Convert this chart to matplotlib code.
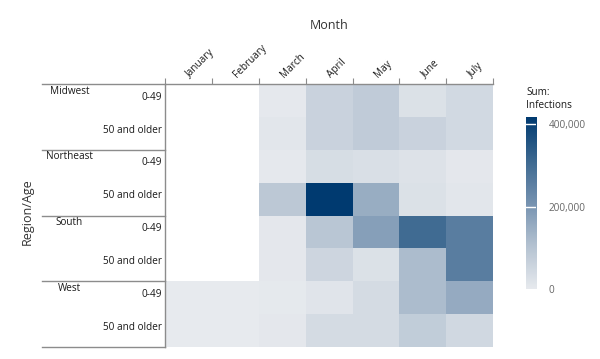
import numpy as np
import matplotlib.pyplot as plt
from matplotlib.colors import LinearSegmentedColormap
from matplotlib import transforms

plt.rcParams['font.family'] = ['Open Sans', 'DejaVu Sans']

months = ['January', 'February', 'March', 'April', 'May', 'June', 'July']
regions = ['Midwest', 'Northeast', 'South', 'West']
ages = ['0-49', '50 and older']

nan = np.nan
# infections per region/age row, one value per month (NaN = no data)
midwest_young = [nan, nan, 5000, 62000, 80000, 25000, 45000]
midwest_old = [nan, nan, 10000, 62000, 80000, 62000, 45000]
northeast_young = [nan, nan, 5000, 35000, 30000, 22000, 8000]
northeast_old = [nan, nan, 88000, 417000, 150000, 25000, 10000]
south_young = [nan, nan, 8000, 95000, 180000, 305000, 260000]
south_old = [nan, nan, 8000, 55000, 25000, 118000, 260000]
west_young = [1000, 1000, 4000, 15000, 40000, 118000, 155000]
west_old = [1000, 1000, 8000, 40000, 40000, 78000, 48000]

values = np.array([midwest_young, midwest_old, northeast_young, northeast_old,
                   south_young, south_old, west_young, west_old])
vmax = 417000

cmap = LinearSegmentedColormap.from_list(
    'tab_blue', ['#e7eaee', '#b4c2d1', '#7592b0', '#3c6890', '#003a70'])
cmap.set_bad('white')

fig = plt.figure(figsize=(6, 3.59), dpi=100)
ax = fig.add_axes([0.275, 0.0334, 0.547, 0.7326])

nrows, ncols = values.shape
ax.pcolormesh(np.arange(ncols + 1), np.arange(nrows + 1),
              np.ma.masked_invalid(values), cmap=cmap, vmin=0, vmax=vmax)
ax.set_xlim(0, ncols)
ax.set_ylim(nrows, 0)

line_col = '#8c8c8c'
txt_col = '#1a1a1a'
for s in ['right', 'bottom']:
    ax.spines[s].set_visible(False)
for s in ['top', 'left']:
    ax.spines[s].set_color(line_col)
    ax.spines[s].set_linewidth(1)

ax.set_xticks(np.arange(ncols + 1))
ax.set_xticklabels([])
ax.set_yticks([])
ax.tick_params(axis='x', top=True, bottom=False, labeltop=False, labelbottom=False,
               direction='out', length=4, color=line_col)

# month labels
trans_x = transforms.blended_transform_factory(ax.transData, ax.transAxes)
for i, m in enumerate(months):
    ax.text(i + 0.5, 1.03, m, transform=trans_x, rotation=45,
            rotation_mode='anchor', ha='left', va='center', fontsize=7.2,
            color=txt_col)

fig.text(0.549, 0.93, 'Month', ha='center', va='center', fontsize=9,
         color='#333333')
fig.text(0.045, 0.41, 'Region/Age', rotation=90, ha='center', va='center',
         fontsize=9, color='#333333')

# left-hand row header table
trans_y = transforms.blended_transform_factory(ax.transAxes, ax.transData)
x_left = -0.375
for k in range(len(regions) + 1):
    ax.plot([x_left, 0], [2 * k, 2 * k], color=line_col, lw=1,
            transform=trans_y, clip_on=False)
for k, r in enumerate(regions):
    ax.text(-0.291, 2 * k + 0.22, r, transform=trans_y, ha='center',
            va='center', fontsize=7.2, color=txt_col)
    for j, a in enumerate(ages):
        ax.text(-0.009, 2 * k + j + 0.4, a, transform=trans_y, ha='right',
                va='center', fontsize=7.2, color=txt_col)

# colorbar
cax = fig.add_axes([0.877, 0.195, 0.0167, 0.479])
grad = np.linspace(0, vmax, 256).reshape(-1, 1)
cax.imshow(grad, aspect='auto', cmap=cmap, origin='lower',
           extent=[0, 1, 0, vmax], vmin=0, vmax=vmax)
for t in [200000, 400000]:
    cax.axhline(t, color='white', lw=1)
cax.set_xticks([])
cax.set_yticks([0, 200000, 400000])
cax.set_yticklabels(['0', '200,000', '400,000'])
cax.yaxis.tick_right()
cax.tick_params(axis='y', length=0, pad=9, labelsize=7.2, labelcolor='#666666')
for s in cax.spines.values():
    s.set_visible(False)
fig.text(0.877, 0.69, 'Sum:\nInfections', ha='left', va='bottom',
         fontsize=7.2, color=txt_col, linespacing=1.3)

fig.savefig('out.png', dpi=100)
